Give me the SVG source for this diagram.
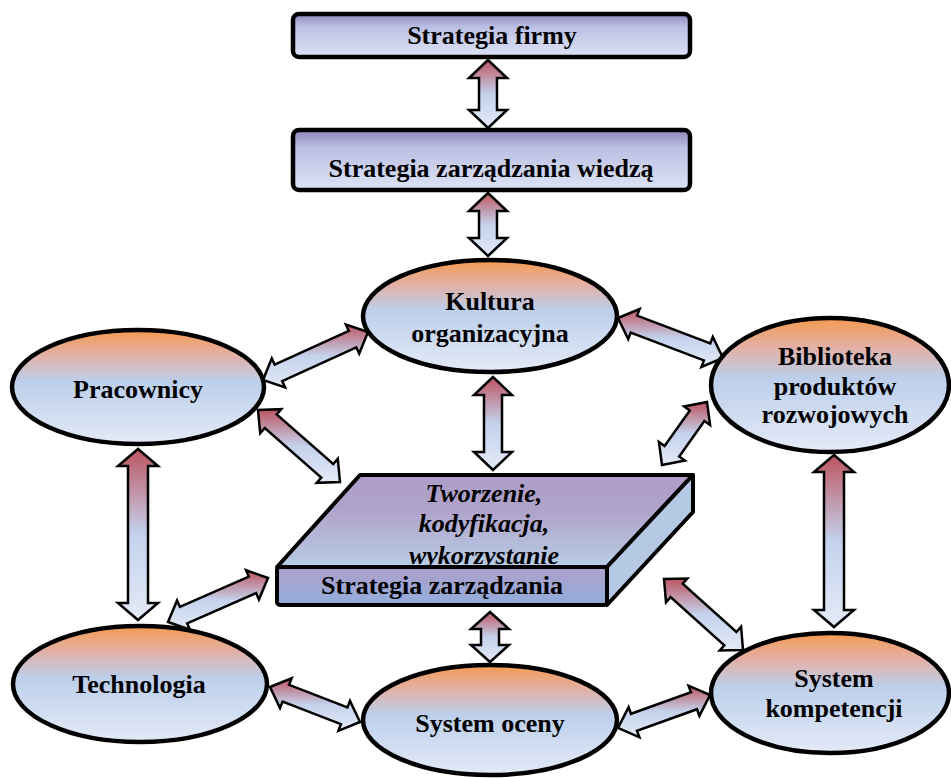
<svg xmlns="http://www.w3.org/2000/svg" width="951" height="778" viewBox="0 0 951 778">
<defs>
<linearGradient id="gBox" x1="0" y1="0" x2="0" y2="1">
<stop offset="0" stop-color="#8e86bc"/>
<stop offset="0.3" stop-color="#bcc0e4"/>
<stop offset="1" stop-color="#dce3f5"/>
</linearGradient>
<linearGradient id="gEll" x1="0" y1="0" x2="0" y2="1">
<stop offset="0" stop-color="#f49a50"/>
<stop offset="0.22" stop-color="#e3b0a6"/>
<stop offset="0.45" stop-color="#bccfeb"/>
<stop offset="1" stop-color="#e4eaf7"/>
</linearGradient>
<linearGradient id="gArr" x1="0" y1="0" x2="0" y2="1">
<stop offset="0" stop-color="#bd5561"/>
<stop offset="0.5" stop-color="#c4d2ec"/>
<stop offset="1" stop-color="#e4eaf7"/>
</linearGradient>
<linearGradient id="gTop" x1="0" y1="0" x2="0" y2="1">
<stop offset="0" stop-color="#ad9cc7"/>
<stop offset="0.4" stop-color="#b0a4cb"/>
<stop offset="1" stop-color="#b9cde6"/>
</linearGradient>
<linearGradient id="gFront" x1="0" y1="0" x2="0" y2="1">
<stop offset="0" stop-color="#b09fcb"/>
<stop offset="1" stop-color="#91addb"/>
</linearGradient>
<style>
.box{fill:url(#gBox);stroke:#000;stroke-width:4.5}
.ell{fill:url(#gEll);stroke:#000;stroke-width:4.5}
.arr{fill:url(#gArr);stroke:#000;stroke-width:2.5;stroke-linejoin:miter}
.slab{stroke:#000;stroke-width:4;stroke-linejoin:round}
text{font-weight:bold;font-size:26px;fill:#000;text-anchor:middle}
.ti{font-style:italic}
</style>
</defs>
<rect width="951" height="778" fill="#fff"/>
<g id="connectors">
<polygon class="arr" points="488,60 469,78 479,78 479,110 469,110 488,128 507,110 497,110 497,78 507,78"/>
<polygon class="arr" points="488,193 469,211 479,211 479,238 469,238 488,256 507,238 497,238 497,211 507,211"/>
<polygon class="arr" points="493,377 474,395 484,395 484,452 474,452 493,470 512,452 502,452 502,395 512,395"/>
<polygon class="arr" points="138,449 118,466 128,466 128,603 118,603 138,620 158,603 148,603 148,466 158,466"/>
<polygon class="arr" points="834,455 814,472 824,472 824,610 814,610 834,627 854,610 844,610 844,472 854,472"/>
<polygon class="arr" points="490,612 471,629 481,629 481,645 471,645 490,662 509,645 499,645 499,629 509,629"/>
<polygon class="arr" points="368,332 345.9,324.5 348.8,330.9 274.7,364.7 271.8,358.4 263,380 285.1,387.5 282.2,381.1 356.3,347.3 359.2,353.6"/>
<polygon class="arr" points="258,410 260.2,433.2 264.8,428 321.3,477.5 316.7,482.8 340,482 337.8,458.8 333.2,464 276.7,414.5 281.3,409.2"/>
<polygon class="arr" points="618,318 628.2,339 630.7,332.5 703.9,360.4 701.4,366.9 723,358 712.8,337 710.3,343.5 637.1,315.6 639.6,309.1"/>
<polygon class="arr" points="707,402 684.1,406.5 689.8,410.6 664.6,445.9 658.9,441.9 662,465 684.9,460.5 679.2,456.4 704.4,421.1 710.1,425.1"/>
<polygon class="arr" points="268,578 246,570.2 248.8,576.6 179.9,606.9 177.1,600.5 168,622 190,629.8 187.2,623.4 256.1,593.1 258.9,599.5"/>
<polygon class="arr" points="270,687 280,708.1 282.6,701.6 340.9,724.2 338.4,730.8 360,722 350,700.9 347.4,707.5 289.1,684.8 291.6,678.3"/>
<polygon class="arr" points="710,695 688.6,685.7 691,692.3 631,713.8 628.6,707.2 618,728 639.4,737.3 637,730.7 697,709.2 699.4,715.8"/>
<polygon class="arr" points="664,579 666,602.3 670.6,597.1 724.3,645.3 719.7,650.5 743,650 741.1,626.7 736.4,632 682.7,583.7 687.3,578.5"/>
</g>
<g font-family="Liberation Serif, Times New Roman, serif">
<g id="strategia-firmy">
<rect class="box" x="293" y="14" width="397" height="43" rx="6"/>
<text x="492" y="44">Strategia firmy</text>
</g>
<g id="strategia-wiedzy">
<rect class="box" x="293" y="130" width="397" height="60" rx="6"/>
<text x="491" y="177">Strategia zarządzania wiedzą</text>
</g>
<g id="kultura">
<ellipse class="ell" cx="490" cy="316" rx="127" ry="56"/>
<text x="490" y="310">Kultura</text>
<text x="490" y="342">organizacyjna</text>
</g>
<g id="pracownicy">
<ellipse class="ell" cx="138" cy="387" rx="126" ry="57"/>
<text x="138" y="398">Pracownicy</text>
</g>
<g id="biblioteka">
<ellipse class="ell" cx="830" cy="385" rx="119" ry="67"/>
<text x="835" y="365">Biblioteka</text>
<text x="835" y="395">produktów</text>
<text x="835" y="423">rozwojowych</text>
</g>
<g id="technologia">
<ellipse class="ell" cx="140" cy="684" rx="127" ry="58"/>
<text x="139" y="693">Technologia</text>
</g>
<g id="system-oceny">
<ellipse class="ell" cx="490" cy="720" rx="127" ry="55"/>
<text x="490" y="732">System oceny</text>
</g>
<g id="system-kompetencji">
<ellipse class="ell" cx="830" cy="693" rx="119" ry="60"/>
<text x="834" y="687">System</text>
<text x="834" y="717">kompetencji</text>
</g>
<g id="strategia-zarzadzania">
<polygon class="slab" fill="url(#gTop)" points="360,475 693,475 607,567 277,567"/>
<text class="ti" x="484" y="502">Tworzenie,</text>
<text class="ti" x="484" y="532">kodyfikacja,</text>
<text class="ti" x="484" y="564">wykorzystanie</text>
<polygon class="slab" fill="#b6c9e4" points="607,567 693,475 693,512 607,605"/>
<rect class="slab" fill="url(#gFront)" x="277" y="567" width="330" height="38" rx="3"/>
<text x="442" y="594">Strategia zarządzania</text>
</g>
</g>
</svg>
